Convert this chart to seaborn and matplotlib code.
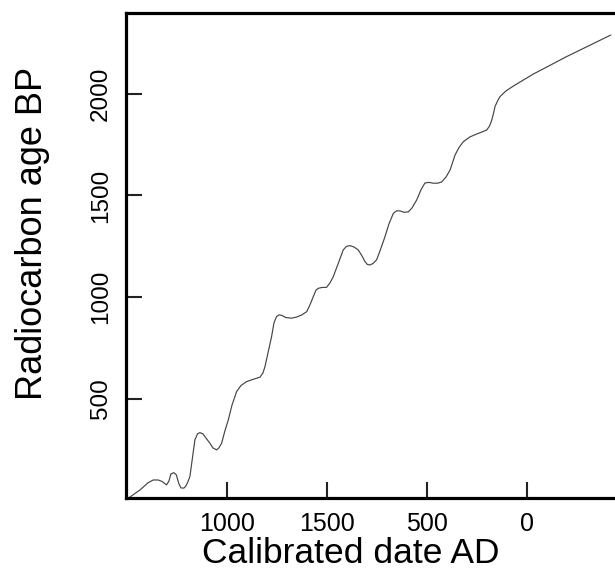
import matplotlib
matplotlib.use("Agg")
import matplotlib.pyplot as plt
import seaborn as sns
import pandas as pd

# Calibration curve (calendar date AD, radiocarbon age BP)
cal_date_ad = [1996, 1937, 1897, 1871, 1846, 1827, 1804, 1792, 1782, 1767,
               1755, 1742, 1732, 1717, 1707, 1697, 1687, 1677, 1662, 1649,
               1637, 1622, 1607, 1587, 1572, 1553, 1542, 1528, 1512, 1495,
               1476, 1453, 1431, 1403, 1371, 1336, 1321, 1311, 1296, 1278,
               1266, 1253, 1241, 1227, 1206, 1177, 1151, 1127, 1102, 1086,
               1069, 1056, 1044, 1026, 1002, 986, 969, 945, 919, 903,
               885, 865, 844, 825, 810, 798, 785, 770, 752, 735,
               710, 690, 668, 652, 635, 615, 593, 575, 551, 530,
               510, 490, 468, 447, 426, 404, 384, 359, 339, 318,
               284, 251, 224, 200, 186, 175, 166, 159, 146, 134,
               104, 67, -33, -200, -421]
c14_age_bp = [10, 51, 86, 100, 100, 93, 76, 95, 130, 136,
              125, 81, 61, 60, 71, 91, 117, 189, 297, 327,
              333, 327, 307, 281, 258, 248, 258, 281, 341, 395,
              469, 535, 565, 584, 595, 606, 627, 658, 725, 805,
              873, 904, 912, 910, 899, 896, 902, 912, 928, 961,
              1002, 1033, 1043, 1047, 1048, 1069, 1100, 1163, 1232, 1249,
              1253, 1246, 1232, 1202, 1174, 1160, 1158, 1165, 1183, 1227,
              1297, 1360, 1412, 1424, 1424, 1417, 1419, 1438, 1478, 1527,
              1561, 1564, 1560, 1560, 1566, 1591, 1625, 1699, 1736, 1764,
              1788, 1802, 1812, 1822, 1842, 1871, 1906, 1937, 1965, 1986,
              2014, 2038, 2097, 2183, 2289]

x_tick_pos = [1500, 1000, 500, 0]
x_tick_labels = ["1000", "1500", "500", "0"]
y_tick_pos = [500, 1000, 1500, 2000]
y_tick_labels = ["500", "1000", "1500", "2000"]

sns.set_theme(style="white")
plt.rcParams["font.family"] = ["Liberation Sans", "DejaVu Sans"]

fig = plt.figure(figsize=(6.15, 5.71), dpi=100)
ax = fig.add_axes([0.2049, 0.1270, 0.7951, 0.8494])

df = pd.DataFrame({"date": cal_date_ad, "age": c14_age_bp})
sns.lineplot(data=df, x="date", y="age", ax=ax, estimator=None, sort=False,
             color="#444444", linewidth=0.85)
for ln in ax.lines:
    ln.set_solid_joinstyle("round")
    ln.set_solid_capstyle("round")

ax.set_xlim(2007, -442)
ax.set_ylim(9, 2395)

ax.set_xticks(x_tick_pos)
ax.set_xticklabels(x_tick_labels)
ax.set_yticks(y_tick_pos)
ax.set_yticklabels(y_tick_labels, rotation=90, va="center")

for s in ["left", "bottom", "top"]:
    ax.spines[s].set_visible(True)
    ax.spines[s].set_color("black")
    ax.spines[s].set_linewidth(2.3)
ax.spines["right"].set_visible(False)

ax.tick_params(axis="both", direction="in", length=11.5, width=1.5,
               color="#222222", labelcolor="black", pad=10)
ax.tick_params(axis="x", bottom=True, top=False, labelsize=18)
ax.tick_params(axis="y", left=True, right=False, labelsize=17.5)

ax.set_xlabel("Calibrated date AD", fontsize=25.5, color="black")
ax.set_ylabel("Radiocarbon age BP", fontsize=26, color="black")
ax.xaxis.set_label_coords(0.46, -0.113)
ax.xaxis.label.set_va("center")
ax.yaxis.set_label_coords(-0.192, 0.547)
ax.yaxis.label.set_va("center")

ax.grid(False)
fig.savefig("out.png", dpi=100)
